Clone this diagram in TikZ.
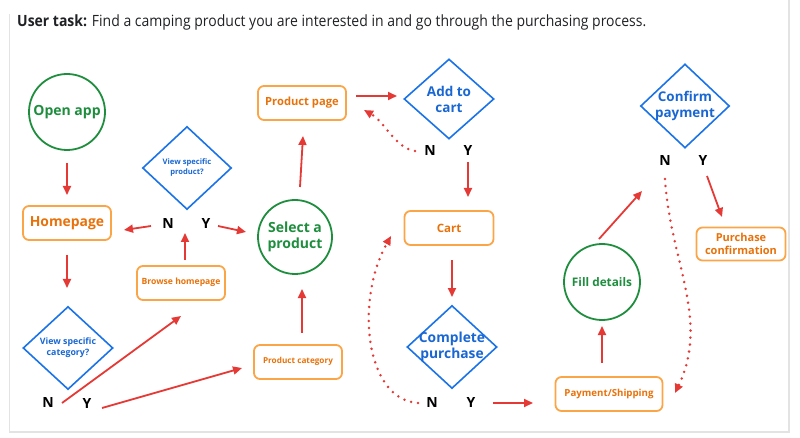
\documentclass[tikz,border=0pt]{standalone}
\usepackage{fontspec}
\usepackage{graphicx}
\setmainfont{Open Sans}
\usetikzlibrary{shapes.geometric,arrows.meta,calc}
\definecolor{gGreen}{HTML}{1E8E3E}
\definecolor{gOrange}{HTML}{FBA547}
\definecolor{gOrangeT}{HTML}{E8710A}
\definecolor{gBlue}{HTML}{1A73E8}
\definecolor{gBlueT}{HTML}{1967D2}
\definecolor{gRed}{HTML}{E53935}
\definecolor{cardgray}{HTML}{E3E3E3}
\definecolor{titlegray}{HTML}{202124}
\begin{document}
\begin{tikzpicture}[x=1pt,y=-1pt,
 circnode/.style={circle,draw=gGreen,line width=1.8pt,minimum size=76pt,inner sep=0pt,text=gGreen,font=\bfseries\fontsize{14}{16.5}\selectfont,align=center},
 boxnode/.style={rectangle,rounded corners=6pt,draw=gOrange,line width=1.8pt,minimum width=88pt,minimum height=34pt,inner sep=0pt,text=gOrangeT,font=\bfseries\fontsize{11}{13}\selectfont,align=center},
 dianode/.style={diamond,aspect=1,draw=gBlue,line width=1.6pt,inner sep=0pt,minimum width=90pt,minimum height=83pt},
 dlab/.style={text=gBlueT,font=\bfseries\fontsize{13.5}{16}\selectfont,align=center,inner sep=0pt},
 yn/.style={font=\bfseries\fontsize{14}{15}\selectfont,inner sep=0pt},
 arr/.style={draw=gRed,line width=1.8pt,-{Triangle[length=9pt,width=8pt]}},
 dotarr/.style={draw=gRed,line width=2.8pt,dash pattern=on 0pt off 7pt,line cap=round,-{Triangle[length=9pt,width=8pt]}}]
\useasboundingbox (0,0) rectangle (800,438);
% card
\draw[cardgray,line width=1.5pt] (9.5,14) -- (9.5,432) -- (789,432) -- (789,0);
% title
\node[anchor=west,inner sep=0pt,text=titlegray] (title) at (17,22) {\resizebox{629pt}{\height}{\fontsize{15.5}{18}\selectfont\textbf{User task:} Find a camping product you are interested in and go through the purchasing process.}};
% nodes
\node[circnode] (open) at (67,112) {Open app};
\node[boxnode,font=\bfseries\fontsize{13.9}{16}\selectfont] (home) at (67,223) {Homepage};
\node[dianode] (catD) at (68,348) {};
\node[dlab,font=\bfseries\fontsize{8.8}{11}\selectfont] (catT) at (catD) {View specific\\category?};
\node[yn] (catN) at (48,403) {N};
\node[yn] (catY) at (87,404) {Y};
\node[boxnode,font=\bfseries\fontsize{8.6}{10}\selectfont] (browse) at (181,283) {\raisebox{4pt}{Browse homepage}};
\node[dianode,minimum width=89pt] (prodD) at (187,168) {};
\node[dlab,font=\bfseries\fontsize{7.6}{10}\selectfont] (prodT) at (prodD) {View specific\\product?};
\node[yn] (prodN) at (168,224) {N};
\node[yn] (prodY) at (206,224) {Y};
\node[circnode,minimum size=74pt] (select) at (295,237) {Select a\\product};
\node[boxnode,font=\bfseries\fontsize{11.2}{13}\selectfont] (ppage) at (302,103) {Product page};
\node[boxnode,font=\bfseries\fontsize{8.2}{10}\selectfont] (pcat) at (298,362) {\raisebox{3pt}{Product category}};
\node[dianode,minimum height=80pt] (addD) at (449,99) {};
\node[dlab] (addT) at (addD) {Add to\\cart};
\node[yn] (addN) at (430,151) {N};
\node[yn] (addY) at (468,151) {Y};
\node[boxnode,minimum width=89pt,font=\bfseries\fontsize{11.5}{13}\selectfont] (cart) at (449,228) {Cart};
\node[dianode] (cpD) at (452,347) {};
\node[dlab,font=\bfseries\fontsize{13.8}{16}\selectfont] (cpT) at (cpD) {Complete\\purchase};
\node[yn] (cpN) at (432,403) {N};
\node[yn] (cpY) at (471,403) {Y};
\node[boxnode,minimum width=107pt,font=\bfseries\fontsize{9.7}{12}\selectfont] (pay) at (609,394) {\raisebox{3pt}{Payment/Shipping}};
\node[circnode,font=\bfseries\fontsize{11.8}{14}\selectfont] (fill) at (602,282) {Fill details};
\node[dianode,minimum width=89pt,minimum height=84pt] (confD) at (685,106) {};
\node[dlab,font=\bfseries\fontsize{13.4}{16}\selectfont] (confT) at (confD) {Confirm\\payment};
\node[yn] (confN) at (665,161) {N};
\node[yn] (confY) at (703,161) {Y};
\node[boxnode,minimum width=89pt,minimum height=33pt,font=\bfseries\fontsize{11}{13}\selectfont] (pconf) at (741,244) {Purchase\\confirmation};
% arrows
\draw[arr] ($(open)+(0,51)$) -- ($(home)+(0,-28)$);
\draw[arr] ($(home)+(0,32)$) -- ($(catD)+(-1,-60)$);
\draw[arr] ($(catN)+(14,0)$) -- ($(browse)+(0,33)$);
\draw[arr] ($(catY)+(15,4)$) -- ($(pcat)+(-56,6)$);
\draw[arr] ($(browse)+(4,-23)$) -- ($(prodD)+(-2,65)$);
\draw[arr] ($(prodN)+(-17,2)$) -- ($(home)+(57,7)$);
\draw[arr] ($(prodY)+(12,2)$) -- ($(select)+(-49,-5)$);
\draw[arr] ($(pcat)+(4,-29)$) -- ($(select)+(7,52)$);
\draw[arr] ($(select)+(5,-50)$) -- ($(ppage)+(1,33)$);
\draw[arr] ($(ppage)+(54,-7)$) -- ($(addD)+(-52,-3)$);
\draw[dotarr] ($(addN)+(-15,0)$) .. controls (395,148) and (385,122) .. ($(ppage)+(62,7)$);
\draw[arr] ($(addY)+(0,11)$) -- ($(cart)+(19,-31)$);
\draw[arr] ($(cart)+(3,32)$) -- ($(cpD)+(0,-50)$);
\draw[dotarr] ($(cpN)+(-14,0)$) .. controls (365,400) and (355,300) .. ($(cart)+(-58,8)$);
\draw[arr] ($(cpY)+(22,0)$) -- ($(pay)+(-76,9)$);
\draw[arr] ($(pay)+(-7,-31)$) -- ($(fill)+(0,44)$);
\draw[arr] ($(fill)+(-3,-43)$) -- ($(confD)+(-43,85)$);
\draw[arr] ($(confY)+(4,15)$) -- ($(pconf)+(-19,-27)$);
\draw[dotarr] ($(confN)+(0,18)$) .. controls (670,260) and (710,320) .. ($(pay)+(66,-1)$);
\end{tikzpicture}
\end{document}
